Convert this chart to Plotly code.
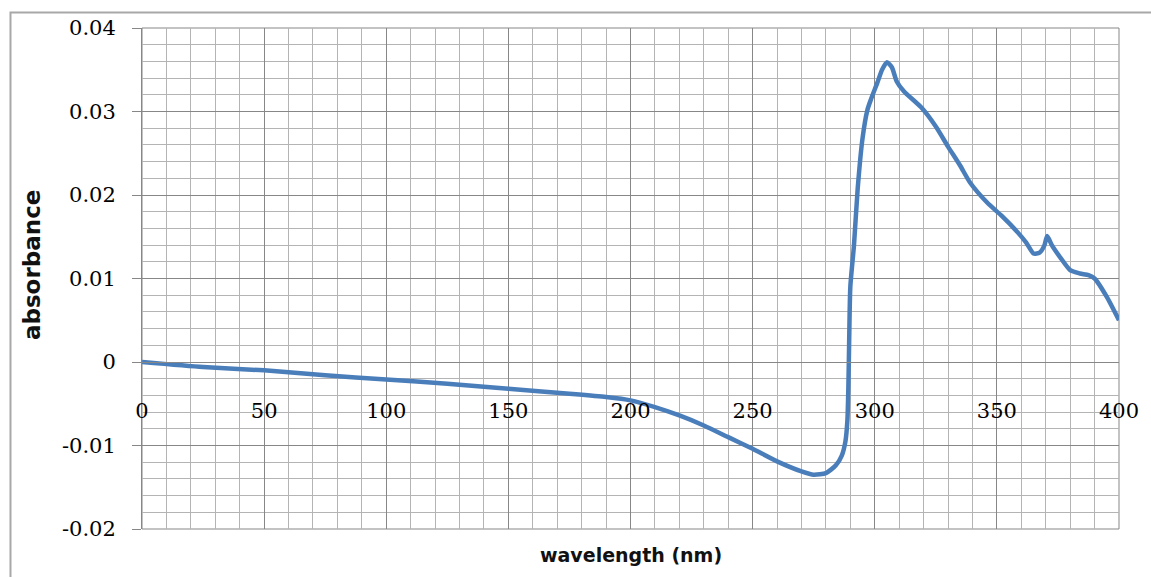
import plotly.graph_objects as go

# Absorbance spectrum readings
wavelength_nm = [0, 25, 50, 75, 100, 125, 150, 175, 190, 200, 210, 220, 230, 240, 250, 260, 270,
                 275, 280, 284, 286.5, 288, 288.8, 289.2, 289.5, 290, 291.5, 293, 295, 297, 298.5,
                 301, 303, 305, 307, 309, 312, 319, 325, 330, 335, 339, 346, 352, 358, 362,
                 365, 367.5, 369.5, 370.6, 372.5, 376, 380, 384, 387.5, 390, 395, 400]
absorbance = [0.0000, -0.0006, -0.0010, -0.0016, -0.0021, -0.0026, -0.0032, -0.0038, -0.0042,
              -0.0046, -0.0054, -0.0064, -0.0076, -0.0090, -0.0104, -0.0119, -0.0131, -0.0135,
              -0.0133, -0.0124, -0.0112, -0.0095, -0.0070, -0.0030, 0.0020, 0.0090, 0.0140,
              0.0207, 0.0268, 0.0302, 0.0315, 0.0334, 0.0350, 0.0359, 0.0353, 0.0336, 0.0324,
              0.0305, 0.0282, 0.0258, 0.0235, 0.0215, 0.0191, 0.0175, 0.0157, 0.0143, 0.0130,
              0.0131, 0.0140, 0.0151, 0.0140, 0.0125, 0.0110, 0.0106, 0.0104, 0.0100, 0.0078,
              0.0050]

x_tick_vals = [0, 50, 100, 150, 200, 250, 300, 350, 400]
x_tick_text = ["0", "50", "100", "150", "200", "250", "300", "350", "400"]
y_tick_vals = [0.04, 0.03, 0.02, 0.01, 0.0, -0.01, -0.02]
y_tick_text = ["0.04", "0.03", "0.02", "0.01", "0", "-0.01", "-0.02"]

x_range = [0, 400]
y_range = [-0.02, 0.04]

MAJOR = "#878787"
MINOR = "#b4b4b4"
TICK_FONT = dict(family="DejaVu Serif", size=21, color="#000000")
TITLE_FONT = dict(family="DejaVu Sans", size=19, color="#111111")

fig = go.Figure()
fig.add_trace(go.Scatter(
    x=wavelength_nm, y=absorbance, mode="lines",
    line=dict(color="#4A7EBB", width=4.5, shape="spline", smoothing=0.6),
    hoverinfo="skip", showlegend=False,
))

fig.update_layout(
    width=1151, height=577,
    margin=dict(l=142, r=29, t=28, b=48),
    paper_bgcolor="white", plot_bgcolor="white",
    xaxis=dict(
        range=x_range, tickmode="array", tickvals=x_tick_vals, ticktext=x_tick_text,
        showgrid=True, gridcolor=MAJOR, gridwidth=1,
        minor=dict(dtick=10, showgrid=True, gridcolor=MINOR, gridwidth=1),
        anchor="free", position=(0 - y_range[0]) / (y_range[1] - y_range[0]),
        showline=True, linecolor=MAJOR, linewidth=1,
        ticks="", ticklabelstandoff=30, tickfont=TICK_FONT,
        zeroline=False, fixedrange=True,
    ),
    yaxis=dict(
        range=y_range, tickmode="array", tickvals=y_tick_vals, ticktext=y_tick_text,
        showgrid=True, gridcolor=MAJOR, gridwidth=1,
        minor=dict(dtick=0.002, showgrid=True, gridcolor=MINOR, gridwidth=1),
        showline=True, linecolor=MAJOR, linewidth=1,
        ticks="outside", ticklen=9, tickcolor=MAJOR, ticklabelstandoff=12,
        tickfont=TICK_FONT, zeroline=False, fixedrange=True,
    ),
    shapes=[
        # outer chart frame
        dict(type="rect", xref="paper", yref="paper",
             x0=-0.1346, x1=1.2, y0=-0.3, y1=1.031,
             line=dict(color="#a8a8a8", width=2), layer="below"),
        # plot-area right and top edges
        dict(type="rect", xref="paper", yref="paper", x0=0, x1=1, y0=0, y1=1,
             line=dict(color=MAJOR, width=1), layer="below"),
    ],
    annotations=[
        dict(text="<b>wavelength (nm)</b>", xref="paper", yref="paper",
             x=0.5, y=-0.052, xanchor="center", yanchor="middle",
             showarrow=False, font=TITLE_FONT),
        dict(text="<b>absorbance</b>", xref="paper", yref="paper",
             x=-0.112, y=0.526, xanchor="center", yanchor="middle", textangle=-90,
             showarrow=False, font=dict(family="DejaVu Sans", size=23, color="#111111")),
    ],
)

fig.write_html("out.html")
